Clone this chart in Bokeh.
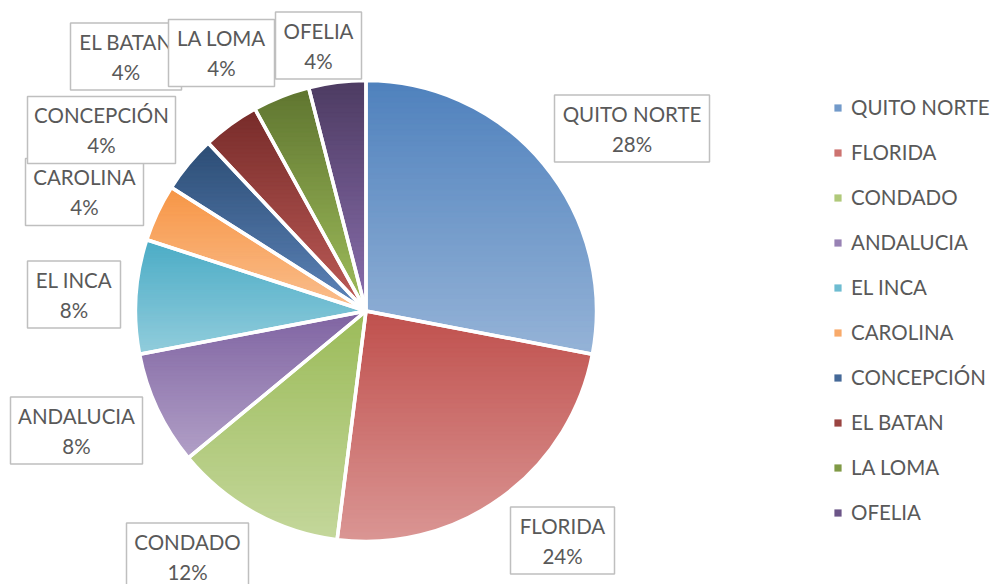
import math
from bokeh.plotting import figure
from bokeh.models import ColumnDataSource, Range1d, Legend, LegendItem
from bokeh.embed import file_html
from bokeh.resources import INLINE
from bokeh.core.properties import value

# ---------------- data ----------------
names = ["QUITO NORTE", "FLORIDA", "CONDADO", "ANDALUCIA", "EL INCA",
         "CAROLINA", "CONCEPCIÓN", "EL BATAN", "LA LOMA", "OFELIA"]
counts = [7, 6, 3, 2, 2, 1, 1, 1, 1, 1]

# ---------------- styles ----------------
top_colors = ["#4F81BD", "#C0504D", "#9BBB59", "#8064A2", "#4BACC6",
              "#F79646", "#2C4D75", "#772C2A", "#5F7530", "#4D3B62"]
bottom_colors = ["#95B3D7", "#DA9694", "#C4D79B", "#B1A0C7", "#92CDDC",
                 "#FABF8F", "#5E85BA", "#BE5C58", "#A0BE5C", "#8A6FAE"]

W, H = 991, 584
CX, CY, R = 365.5, 273.5, 230.5          # pie centre / radius (plot px)
FONT = "Lato"
FSIZE = "20.5px"
TXT = "#595959"

# label boxes: centre (screen px, from top-left) and size
lab_sx = [631.5, 562, 187, 76, 73.5, 84, 101, 125.5, 221, 318]
lab_sy = [128, 540, 556, 430, 294, 191.5, 129.5, 56, 52.5, 45]
lab_w = [155, 104, 122, 132, 93, 118, 148, 111, 106, 86]
lab_h = 67


def hex2rgb(h):
    h = h.lstrip("#")
    return tuple(int(h[i:i + 2], 16) for i in (0, 2, 4))


def lerp(c1, c2, t):
    a, b = hex2rgb(c1), hex2rgb(c2)
    return "#%02x%02x%02x" % tuple(int(round(a[i] + (b[i] - a[i]) * t)) for i in range(3))


total = sum(counts)
fracs = [c / total for c in counts]
cum = [0.0]
for f in fracs:
    cum.append(cum[-1] + f)
start = [math.pi / 2 - 2 * math.pi * cum[i] for i in range(len(counts))]
end = [math.pi / 2 - 2 * math.pi * cum[i + 1] for i in range(len(counts))]
mid_colors = [lerp(top_colors[i], bottom_colors[i], 0.5) for i in range(len(counts))]
pcts = ["%d%%" % round(100 * f) for f in fracs]

src = ColumnDataSource(dict(name=names, count=counts, start=start, end=end,
                            color=mid_colors, pct=pcts))

p = figure(width=W, height=H, output_backend="svg", toolbar_location=None,
           x_range=Range1d(0, W), y_range=Range1d(0, H), min_border=0,
           outline_line_color=None, background_fill_color="white")
p.axis.visible = False
p.grid.visible = False

wr = p.wedge(x=CX, y=CY, radius=R, start_angle="start", end_angle="end",
             direction="clock", fill_color="color", line_color=None, source=src)


# vertical gradient per slice (strips of the wedge)
def wedge_poly(a0, a1):
    pts = [(CX, CY)]
    steps = max(8, int(abs(a0 - a1) / math.radians(0.5)) + 1)
    for k in range(steps + 1):
        a = a0 + (a1 - a0) * k / steps
        pts.append((CX + R * math.cos(a), CY + R * math.sin(a)))
    return pts


def clip(poly, y0, above):
    out = []
    n = len(poly)
    for i in range(n):
        P, Q = poly[i], poly[(i + 1) % n]
        inP = P[1] >= y0 if above else P[1] <= y0
        inQ = Q[1] >= y0 if above else Q[1] <= y0
        if inP:
            out.append(P)
        if inP != inQ:
            t = (y0 - P[1]) / (Q[1] - P[1])
            out.append((P[0] + t * (Q[0] - P[0]), y0))
    return out


xs, ys, cs = [], [], []
NB = 50
for i in range(len(counts)):
    poly = wedge_poly(start[i], end[i])
    ymax = max(q[1] for q in poly)
    ymin = min(q[1] for q in poly)
    hh = (ymax - ymin) / NB
    for k in range(NB):
        hi = ymax - k * hh + 0.01
        lo = ymax - (k + 1) * hh - 0.6
        pp = clip(clip(poly, hi, False), lo, True)
        if len(pp) < 3:
            continue
        xs.append([q[0] for q in pp])
        ys.append([q[1] for q in pp])
        cs.append(lerp(top_colors[i], bottom_colors[i], (k + 0.5) / NB))
p.patches(xs, ys, fill_color=cs, line_color=cs, line_width=0.5)

# white separators
p.wedge(x=CX, y=CY, radius=R, start_angle="start", end_angle="end",
        direction="clock", fill_color=None, line_color="white", line_width=3.5,
        source=src)

# data labels
for i in range(len(counts)):
    lx = lab_sx[i]
    ly = H - lab_sy[i]
    p.rect(x=[lx], y=[ly], width=[lab_w[i]], height=[lab_h], fill_color="white",
           line_color="#BFBFBF", line_width=1.5)
    p.text(x=[lx, lx], y=[ly + 15, ly - 15], text=[names[i], pcts[i]],
           text_align="center", text_baseline="middle", text_font=value(FONT),
           text_font_size=FSIZE, text_color=TXT)

legend = Legend(items=[LegendItem(label=names[i], renderers=[wr], index=i)
                       for i in range(len(counts))],
                location=(833, 57), orientation="vertical",
                label_text_font=FONT, label_text_font_size=FSIZE,
                label_text_color=TXT, glyph_width=9, glyph_height=9,
                label_standoff=9, spacing=15, label_height=30, padding=0,
                margin=0, border_line_alpha=0, background_fill_alpha=0)
p.add_layout(legend)

open("out.html", "w").write(file_html(p, INLINE))
